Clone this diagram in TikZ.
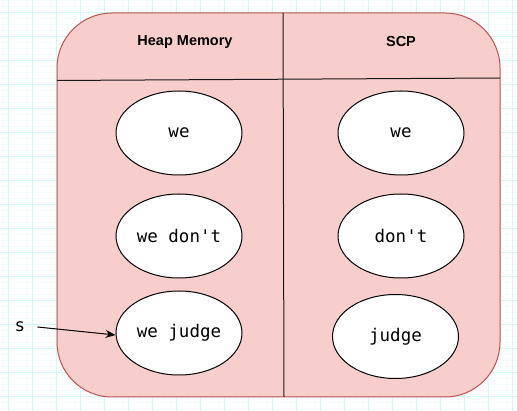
\documentclass[tikz,border=0pt]{standalone}
\usepackage{fontspec}
\setsansfont{Liberation Sans}
\newfontfamily\monofont[Ligatures=TeXOff]{DejaVu Sans Mono}
\usepackage{tikz}
\usetikzlibrary{arrows.meta,positioning,shapes.geometric}
\definecolor{poolFill}{HTML}{F8CECC}
\definecolor{poolLine}{HTML}{B85450}
\definecolor{gridMinor}{HTML}{F3FDFD}
\definecolor{gridMajor}{HTML}{D4F7F7}

\begin{document}
\begin{tikzpicture}[x=1pt,y=-1pt,
  word/.style={draw=black,line width=1pt,fill=white,ellipse,minimum width=126pt,minimum height=84pt,inner sep=0pt,font=\monofont\fontsize{17.5}{20}\selectfont},
  head/.style={font=\sffamily\bfseries\fontsize{14.5}{17}\selectfont},
  arr/.style={-{Stealth[length=10pt,width=8pt]},line width=1pt}
]
\useasboundingbox (0,0) rectangle (517,411);
\fill[white] (0,0) rectangle (517,411);
% background grid
\foreach \gx in {2.5,8.5,...,517} \draw[gridMinor,line width=0.6pt] (\gx,0) -- (\gx,411);
\foreach \gy in {0.7,6.7,...,411} \draw[gridMinor,line width=0.6pt] (0,\gy) -- (517,\gy);
\foreach \gx in {8.5,32.5,...,517} \draw[gridMajor,line width=0.6pt] (\gx,0) -- (\gx,411);
\foreach \gy in {12.7,36.7,...,411} \draw[gridMajor,line width=0.6pt] (0,\gy) -- (517,\gy);
% pool box
\draw[fill=poolFill,draw=poolLine,line width=1pt,rounded corners=55pt] (57,13) rectangle (500,397);
\draw[line width=1pt,black!90] (57,80.5) -- (500,78);
\draw[line width=1pt,black!90] (283,13) -- (284,397);
\node[head] (heapHead) at (185,42) {Heap Memory};
\node[head] (scpHead) at (401,42) {SCP};
% heap strings
\node[word] (heapWe) at (179,133) {we};
\node[word,below=18pt of heapWe] (heapDont) {we don't};
\node[word,below=12pt of heapDont] (heapJudge) {we judge};
% constant pool
\node[word] (scpWe) at (401,133) {we};
\node[word,below=18pt of scpWe] (scpDont) {don't};
\node[word] (scpJudge) at (395.5,336.5) {judge};
% reference
\node[font=\monofont\fontsize{17.5}{20}\selectfont,inner xsep=12pt] (sRef) at (20,327) {s};
\draw[arr] (sRef.east) -- ([yshift=-2pt]heapJudge.west);
\end{tikzpicture}
\end{document}
